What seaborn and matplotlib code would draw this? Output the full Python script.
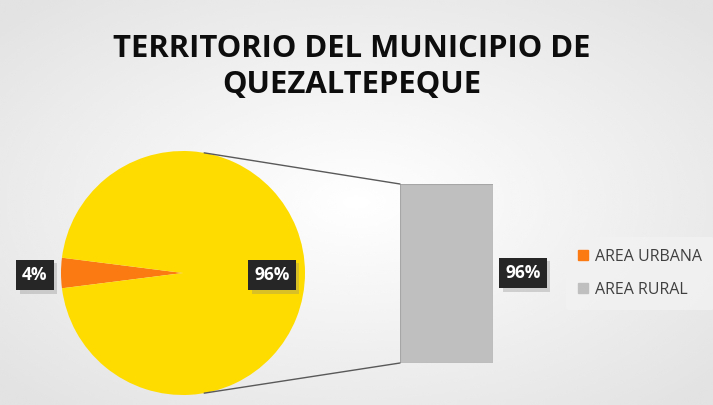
import numpy as np
import pandas as pd
import matplotlib
matplotlib.use("Agg")
import matplotlib.pyplot as plt
import matplotlib.patheffects as pe
from matplotlib.patches import Patch, ConnectionPatch
import seaborn as sns

sns.set_theme(style="white")
plt.rcParams['font.family'] = ['Open Sans', 'DejaVu Sans']

title = "TERRITORIO DEL MUNICIPIO DE\nQUEZALTEPEQUE"
categories = ["AREA URBANA", "AREA RURAL"]
pie_values = [4, 96]
pie_labels = ["4%", "96%"]
bar_category = ["AREA RURAL"]
bar_values = [96]
bar_label = "96%"

c_orange = "#FC7A12"
c_yellow = "#FFDC00"
c_gray = "#BFBFBF"

fig = plt.figure(figsize=(7.13, 4.05), dpi=100)

# background gradient
bg = fig.add_axes([0, 0, 1, 1], zorder=-10)
yy, xx = np.mgrid[-1:1:200j, -1:1:350j]
rr = np.sqrt((xx * 0.9) ** 2 + (yy * 0.9) ** 2)
bg.imshow(1 - 0.11 * np.clip(rr, 0, 1.2) / 1.2, cmap="gray", vmin=0, vmax=1,
          aspect="auto", extent=[0, 1, 0, 1], interpolation="bicubic")
bg.set_axis_off()

# main axes in pixel units (y up)
ax = fig.add_axes([0, 0, 1, 1])
ax.set_xlim(0, 713)
ax.set_ylim(0, 405)
ax.set_axis_off()
ax.patch.set_alpha(0)

cx, cy, r = 183, 405 - 273, 122
start = 180 - pie_values[0] / sum(pie_values) * 360 / 2
wedges, _ = ax.pie(pie_values, colors=[c_orange, c_yellow], startangle=start,
                   center=(cx, cy), radius=r, frame=True,
                   wedgeprops=dict(linewidth=0))
ax.set_xlim(0, 713)
ax.set_ylim(0, 405)
ax.set_axis_off()

# bar of the "pie of bar"
bax = fig.add_axes([400 / 713, (405 - 363) / 405, 93 / 713, 179 / 405])
df = pd.DataFrame({"cat": bar_category, "val": bar_values})
sns.barplot(data=df, x="cat", y="val", color=c_gray, saturation=1, width=1,
            edgecolor="#A6A6A6", linewidth=0.8, ax=bax)
bax.set_xlim(-0.5, 0.5)
bax.set_ylim(0, bar_values[0])
bax.set_axis_off()

# connector lines
for ang, yb in [(80, bar_values[0]), (-80, 0)]:
    p = (cx + r * np.cos(np.radians(ang)), cy + r * np.sin(np.radians(ang)))
    con = ConnectionPatch(xyA=p, coordsA=ax.transData, xyB=(-0.5, yb),
                          coordsB=bax.transData, color="#595959", lw=1)
    fig.add_artist(con)

def dark_label(x, y, s):
    t = ax.text(x, y, s, ha="center", va="center", color="white",
                fontsize=12.5, fontweight="bold",
                bbox=dict(boxstyle="square,pad=0.35", fc="#262626", ec="none"))
    t.get_bbox_patch().set_path_effects(
        [pe.SimplePatchShadow(offset=(2.5, -2.5), shadow_rgbFace="#808080",
                              alpha=0.3), pe.Normal()])
    return t

dark_label(35, 405 - 275, pie_labels[0])
dark_label(272, 405 - 275, pie_labels[1])
dark_label(523, 405 - 273, bar_label)

fig.text(352 / 713, 1 - 67 / 405, title, ha="center", va="center",
         fontsize=22.3, fontweight="bold", color="#0D0D0D", linespacing=1.3)

handles = [Patch(color=c_orange), Patch(color=c_gray)]
leg = fig.legend(handles, categories, loc="upper left",
                 bbox_to_anchor=(566 / 713, 1 - 237 / 405), frameon=True,
                 borderaxespad=0, fontsize=11.5, handlelength=0.6,
                 handleheight=0.6, handletextpad=0.45, labelspacing=1.05,
                 borderpad=0.75, labelcolor="#404040")
leg.get_frame().set_facecolor("#F2F2F2")
leg.get_frame().set_edgecolor("none")

fig.savefig("out.png", dpi=100)
